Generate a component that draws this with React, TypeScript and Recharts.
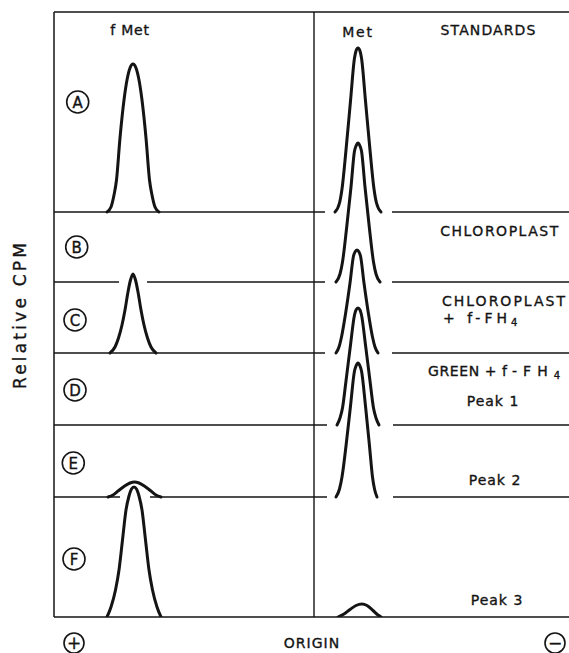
import React from 'react';
import { ComposedChart, Line, XAxis, YAxis, ReferenceLine, ReferenceDot } from 'recharts';

// x: migration position (arbitrary units, left edge 0, origin 260)
// y: relative CPM, panels stacked on their own baselines
const INK = '#141414';
const FONT = '"DejaVu Sans", Arial, sans-serif';

const PANELS = ['A', 'B', 'C', 'D', 'E', 'F'];
const BASELINES = [405, 335, 264, 192, 120, 0];
const ORIGIN_X = 260;
const TOP_Y = 605;

// where each baseline trace is drawn (breaks where peaks cross it)
const BASELINE_RUNS = [
  [[0, 271], [338, 515]],
  [[0, 65], [93, 271], [338, 515]],
  [[0, 271], [338, 515]],
  [[0, 273], [339, 515]],
  [[0, 66], [96, 273], [339, 515]],
];

// fMet peaks (left of origin)
const fMetA = [
  { x: 53, y: 405 }, { x: 57, y: 410 }, { x: 60, y: 422 }, { x: 62.5, y: 437 }, { x: 66, y: 479 },
  { x: 70, y: 517 }, { x: 73, y: 537 }, { x: 76, y: 549 }, { x: 79, y: 553 }, { x: 82, y: 549 },
  { x: 85, y: 537 }, { x: 88, y: 517 }, { x: 92, y: 479 }, { x: 95.5, y: 437 }, { x: 98, y: 422 },
  { x: 101, y: 410 }, { x: 105, y: 405 },
];
const fMetC = [
  { x: 56, y: 264 }, { x: 61, y: 270 }, { x: 64.5, y: 279 }, { x: 68, y: 292 }, { x: 71, y: 307 },
  { x: 74, y: 325 }, { x: 76.5, y: 337 }, { x: 79, y: 343 }, { x: 81.5, y: 337 }, { x: 84, y: 325 },
  { x: 87, y: 307 }, { x: 90, y: 292 }, { x: 93.5, y: 279 }, { x: 97, y: 270 }, { x: 102, y: 264 },
];
const fMetE = [
  { x: 54, y: 120 }, { x: 59, y: 122 }, { x: 64, y: 126 }, { x: 70, y: 130.5 }, { x: 76, y: 134 },
  { x: 80.5, y: 135 }, { x: 85, y: 134 }, { x: 91, y: 130.5 }, { x: 97, y: 126 }, { x: 102, y: 122 },
  { x: 107, y: 120 },
];
const fMetF = [
  { x: 53, y: 0 }, { x: 57, y: 10 }, { x: 61.5, y: 27 }, { x: 65, y: 47 }, { x: 68.5, y: 77 },
  { x: 72, y: 107 }, { x: 75, y: 121 }, { x: 77.5, y: 128 }, { x: 80, y: 130 }, { x: 82.5, y: 128 },
  { x: 85, y: 121 }, { x: 88, y: 107 }, { x: 91.5, y: 77 }, { x: 95, y: 47 }, { x: 98.5, y: 27 },
  { x: 103, y: 10 }, { x: 107, y: 0 },
];

// Met peaks (right of origin)
const metA = [
  { x: 281, y: 405 }, { x: 285.5, y: 414 }, { x: 288, y: 428 }, { x: 292, y: 467 }, { x: 296.5, y: 516 },
  { x: 300.5, y: 559 }, { x: 302, y: 566 }, { x: 304, y: 569 }, { x: 306, y: 566 }, { x: 307.5, y: 559 },
  { x: 311.5, y: 516 }, { x: 316, y: 467 }, { x: 320, y: 428 }, { x: 322.5, y: 414 }, { x: 327, y: 405 },
];
const metB = [
  { x: 282, y: 335 }, { x: 286, y: 343 }, { x: 288.5, y: 355 }, { x: 292.5, y: 388 }, { x: 297, y: 430 },
  { x: 300.5, y: 466 }, { x: 302, y: 471 }, { x: 304, y: 474 }, { x: 306, y: 471 }, { x: 307.5, y: 466 },
  { x: 311, y: 430 }, { x: 315.5, y: 388 }, { x: 319.5, y: 355 }, { x: 322, y: 343 }, { x: 326, y: 335 },
];
const metC = [
  { x: 282, y: 264 }, { x: 285, y: 270 }, { x: 287.5, y: 280 }, { x: 291.5, y: 303 }, { x: 296, y: 334 },
  { x: 299.5, y: 361 }, { x: 301, y: 365 }, { x: 303, y: 367 }, { x: 305, y: 365 }, { x: 306.5, y: 361 },
  { x: 310, y: 334 }, { x: 314.5, y: 303 }, { x: 318.5, y: 280 }, { x: 321, y: 270 }, { x: 324, y: 264 },
];
const metD = [
  { x: 283, y: 192 }, { x: 286, y: 199 }, { x: 288.5, y: 209 }, { x: 292, y: 236 }, { x: 296.5, y: 272 },
  { x: 300.5, y: 302 }, { x: 302, y: 307 }, { x: 304, y: 309 }, { x: 306, y: 307 }, { x: 307.5, y: 302 },
  { x: 311.5, y: 272 }, { x: 316, y: 236 }, { x: 319.5, y: 209 }, { x: 322, y: 199 }, { x: 325, y: 192 },
];
const metE = [
  { x: 282, y: 120 }, { x: 285.5, y: 128 }, { x: 288, y: 140 }, { x: 292, y: 171 }, { x: 296.5, y: 211 },
  { x: 300.5, y: 246 }, { x: 302, y: 251 }, { x: 304, y: 254 }, { x: 306, y: 251 }, { x: 307.5, y: 246 },
  { x: 311.5, y: 211 }, { x: 315.5, y: 171 }, { x: 318.5, y: 140 }, { x: 320.5, y: 128 }, { x: 323, y: 120 },
];
const metF = [
  { x: 284, y: 0 }, { x: 290, y: 3 }, { x: 296, y: 7.5 }, { x: 302, y: 11.5 }, { x: 308, y: 13 },
  { x: 313, y: 11.5 }, { x: 319, y: 6.5 }, { x: 324, y: 2 }, { x: 327, y: 0 },
];

const PEAKS = [fMetA, fMetC, fMetE, fMetF, metA, metB, metC, metD, metE, metF];

const AXIS_TICKS = [20, 258, 501];
const AXIS_LABELS = ['+', 'ORIGIN', '\u2212'];

// annotation anchors (data coords)
const PANEL_LABEL_POS = [
  { x: 23.7, y: 515 }, { x: 22.7, y: 370 }, { x: 21, y: 297 },
  { x: 21, y: 227 }, { x: 19.3, y: 154 }, { x: 20, y: 58 },
];

const textProps = {
  fill: INK,
  stroke: INK,
  strokeWidth: 0.35,
  fontFamily: FONT,
  fontSize: 14,
  dominantBaseline: 'central' as const,
};

const caption = (content: React.ReactNode, anchor: 'start' | 'middle' = 'middle', ls = 1) => (p: any) => (
  <text x={p.cx} y={p.cy} textAnchor={anchor} letterSpacing={ls} {...textProps}>
    {content}
  </text>
);

const panelBadge = (letter: string) => (p: any) => (
  <g>
    <circle cx={p.cx} cy={p.cy} r={11} fill="#fff" stroke={INK} strokeWidth={1.6} />
    <text x={p.cx} y={p.cy + 0.5} textAnchor="middle" {...textProps} fontSize={15}>
      {letter}
    </text>
  </g>
);

const AxisTick = (props: any) => {
  const { x, y, payload } = props;
  const label = AXIS_LABELS[AXIS_TICKS.indexOf(payload.value)];
  const cy = y + 18;
  if (label === 'ORIGIN') {
    return (
      <text x={x} y={cy} textAnchor="middle" letterSpacing={1} {...textProps}>
        {label}
      </text>
    );
  }
  return (
    <g>
      <circle cx={x} cy={cy} r={10} fill="none" stroke={INK} strokeWidth={1.6} />
      <text x={x} y={cy} textAnchor="middle" {...textProps} fontSize={17}>
        {label}
      </text>
    </g>
  );
};

const Sub = ({ children }: { children: React.ReactNode }) => (
  <tspan dy={4} fontSize={10} letterSpacing={0}>
    {children}
  </tspan>
);

export default function App() {
  return (
    <div style={{ position: 'absolute', left: 0, top: 0, width: 569, height: 653, background: '#fff' }}>
      <ComposedChart width={569} height={653} margin={{ top: 12, right: 0, bottom: 0, left: 0 }}>
        <XAxis
          type="number"
          dataKey="x"
          domain={[0, 515]}
          allowDataOverflow
          ticks={AXIS_TICKS}
          interval={0}
          tick={<AxisTick />}
          tickLine={false}
          axisLine={{ stroke: INK, strokeWidth: 1.5 }}
          height={36}
        />
        <YAxis
          type="number"
          domain={[0, TOP_Y]}
          allowDataOverflow
          width={54}
          tick={false}
          tickLine={false}
          axisLine={{ stroke: INK, strokeWidth: 1.5 }}
          label={{
            value: 'Relative CPM',
            angle: -90,
            position: 'insideLeft',
            offset: 20,
            fill: INK,
            stroke: INK,
            strokeWidth: 0.35,
            fontSize: 17,
            fontFamily: FONT,
            letterSpacing: 3.2,
            style: { textAnchor: 'middle' },
          }}
        />
        <ReferenceLine y={TOP_Y} stroke={INK} strokeWidth={1.5} />
        <ReferenceLine x={ORIGIN_X} stroke={INK} strokeWidth={1.4} />
        {BASELINE_RUNS.map((runs, i) =>
          runs.map(([x1, x2], j) => (
            <ReferenceLine
              key={`b${i}-${j}`}
              segment={[{ x: x1, y: BASELINES[i] }, { x: x2, y: BASELINES[i] }]}
              stroke={INK}
              strokeWidth={1.5}
            />
          ))
        )}
        {PEAKS.map((pts, i) => (
          <Line
            key={i}
            data={pts}
            dataKey="y"
            type="monotone"
            dot={false}
            activeDot={false}
            stroke={INK}
            strokeWidth={3}
            strokeLinecap="round"
            isAnimationActive={false}
          />
        ))}
        {PANELS.map((letter, i) => (
          <ReferenceDot key={letter} x={PANEL_LABEL_POS[i].x} y={PANEL_LABEL_POS[i].y} shape={panelBadge(letter)} />
        ))}
        <ReferenceDot x={76} y={587} shape={caption('f Met', 'middle', 0.8)} />
        <ReferenceDot x={304} y={585} shape={caption('Met', 'middle', 1.8)} />
        <ReferenceDot x={434.5} y={587} shape={caption('STANDARDS', 'middle', 1.1)} />
        <ReferenceDot x={446} y={386} shape={caption('CHLOROPLAST', 'middle', 1.5)} />
        <ReferenceDot x={450.5} y={316} shape={caption('CHLOROPLAST', 'middle', 2)} />
        <ReferenceDot
          x={389}
          y={299}
          shape={caption(<>+ f-FH<Sub>4</Sub></>, 'start', 4)}
        />
        <ReferenceDot
          x={374}
          y={246}
          shape={caption(
            <>
              <tspan letterSpacing={0.6}>GREEN</tspan>
              <tspan letterSpacing={0.5}>{' + '}</tspan>
              <tspan letterSpacing={6}>f-FH</tspan>
              <Sub>4</Sub>
            </>,
            'start',
            0
          )}
        />
        <ReferenceDot x={439} y={216} shape={caption('Peak 1', 'middle', 1)} />
        <ReferenceDot x={441} y={137} shape={caption('Peak 2', 'middle', 1)} />
        <ReferenceDot x={443} y={17} shape={caption('Peak 3', 'middle', 1)} />
      </ComposedChart>
    </div>
  );
}
